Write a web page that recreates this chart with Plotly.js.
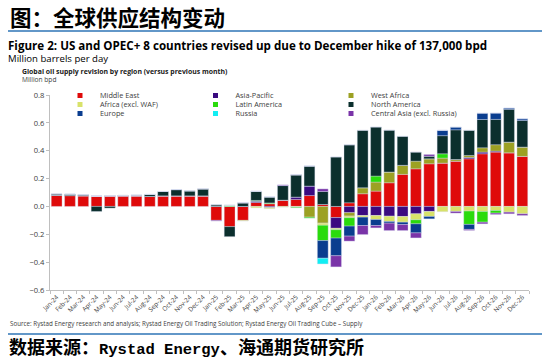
<!DOCTYPE html>
<html>
<head>
<meta charset="utf-8">
<script src="https://cdn.plot.ly/plotly-3.0.1.min.js"></script>
<style>
  html, body { margin: 0; padding: 0; background: #ffffff; }
  #chart { width: 550px; height: 359px; }
</style>
</head>
<body>
<div id="chart"></div>
<script>
// ---- Data (million bpd, revision vs previous month) ----
var months = ['Jan-24','Feb-24','Mar-24','Apr-24','May-24','Jun-24','Jul-24','Aug-24','Sep-24','Oct-24','Nov-24','Dec-24',
              'Jan-25','Feb-25','Mar-25','Apr-25','May-25','Jun-25','Jul-25','Aug-25','Sep-25','Oct-25','Nov-25','Dec-25',
              'Jan-26','Feb-26','Mar-26','Apr-26','May-26','Jun-26','Jul-26','Aug-26','Sep-26','Oct-26','Nov-26','Dec-26'];

var middleEast   = [0.080,0.078,0.077,0.074,0.076,0.076,0.076,0.072,0.076,0.076,0.076,0.076,
                    -0.100,-0.145,-0.100,0.028,0.020,0.045,0.050,0.078,0.014,-0.080,0.026,0.091,
                    0.110,0.170,0.230,0.270,0.306,0.311,0.325,0.342,0.378,0.390,0.385,0.359];
var asiaPacific  = [0,0,0,0,0,0,0,0,0,0,0,0,
                    0,0,0,0.010,-0.008,0,0.017,0.068,0,-0.077,-0.045,-0.065,
                    -0.065,-0.070,-0.072,-0.053,-0.036,0,0,0.010,0.012,0.007,0,0];
var westAfrica   = [0,0,0,0,0,0,0,0,0,0,0,0,
                    0,0,0,0,0,0,0,-0.077,-0.120,0,-0.024,0.043,
                    0.065,0.077,0.065,0.055,0.036,0.036,0.012,0.014,0.031,0.046,0.077,0.067];
var africaExWAF  = [0,0,0,0,0,0,0,0,0,0,0,0,
                    0,0,-0.005,-0.010,-0.008,-0.005,-0.005,0,-0.015,-0.010,-0.012,-0.012,
                    -0.029,-0.038,-0.041,-0.043,-0.036,-0.038,-0.036,-0.033,-0.036,-0.029,-0.041,-0.053];
var latinAmerica = [0,0,0,0,0,0,0,0,0,0,0,0,
                    0,0.008,0,0.005,0.005,0,-0.005,-0.007,-0.110,-0.060,-0.060,0,
                    0.043,0,0,-0.029,0,0.031,0,-0.096,-0.077,-0.019,0,0];
var northAmerica = [0.010,0.010,0.007,-0.036,-0.012,0.003,0.005,0.014,0.031,0.045,0.036,0.050,
                    0.012,-0.072,0.026,0.065,0.043,0.105,0.160,0.144,0.093,0.355,0.416,0.412,
                    0.352,0.300,0.208,0.065,0.019,0.130,0.213,0.180,0.203,0.182,0.235,0.191];
var europe       = [0,0,0,0,0,0,0,0,0,0,0,0,
                    0,0,0,0,0,0,0,0,-0.127,-0.127,-0.072,-0.060,
                    -0.043,-0.012,-0.017,-0.065,-0.017,0.038,0.019,-0.036,0.045,0.045,0.009,0.012];
var russia       = [0,0,0,0,0,0,0,0,0,0,0,0,
                    0,0,0,0,0,0,0,0,-0.041,0,0,0,
                    0,0,0,0,0,0,0,0,0,0,0,0];
var centralAsia  = [0,0,0,0,0,0,0,0,0,0,0,0,
                    -0.005,0,0,0,0,0.005,0,0,0.019,-0.080,-0.036,-0.065,
                    -0.017,-0.053,-0.043,-0.036,0.012,0,-0.012,-0.007,-0.012,-0.010,-0.012,-0.012];

var seriesNames = ['Middle East','Asia-Pacific','West Africa','Africa (excl. WAF)','Latin America',
                   'North America','Europe','Russia','Central Asia (excl. Russia)'];
var seriesValues = [middleEast, asiaPacific, westAfrica, africaExWAF, latinAmerica,
                    northAmerica, europe, russia, centralAsia];
var seriesColors = ['#DF0A0A','#3A0A80','#9CA123','#D8E26A','#2ADB0C',
                    '#0B2F2D','#0A3D8F','#12EEF3','#7A34A8'];
var legendRows   = ['legend','legend','legend','legend2','legend2','legend2','legend3','legend3','legend3'];

// ---- Geometry helpers (layout only) ----
var W = 550, H = 359;
var M = {l: 50, r: 21, t: 95, b: 69};
var pw = W - M.l - M.r, ph = H - M.t - M.b;
function px(x) { return (x - M.l) / pw; }
function py(y) { return (H - M.b - y) / ph; }

var traces = [];
for (var i = 0; i < seriesNames.length; i++) {
  traces.push({
    type: 'bar', x: months, y: seriesValues[i], name: seriesNames[i],
    marker: {color: seriesColors[i], line: {color: 'rgba(215,222,240,0.9)', width: 0.4}},
    showlegend: false, hoverinfo: 'x+y+name'
  });
}
for (var j = 0; j < seriesNames.length; j++) {
  traces.push({
    type: 'scatter', mode: 'markers', x: [null], y: [null], name: seriesNames[j],
    marker: {symbol: 'square', size: 5, color: seriesColors[j]},
    legend: legendRows[j], showlegend: true, hoverinfo: 'skip'
  });
}

var legendBase = function (yPix) {
  return {
    orientation: 'h', x: px(60), xanchor: 'left', y: py(yPix), yanchor: 'middle',
    entrywidth: 90.5, bgcolor: 'rgba(0,0,0,0)', borderwidth: 0,
    font: {family: 'Open Sans, sans-serif', size: 7.3, color: '#404040'},
    itemclick: false, itemdoubleclick: false
  };
};

var cjk = 'Noto Sans CJK SC, sans-serif';
var layout = {
  width: W, height: H,
  margin: M,
  paper_bgcolor: '#ffffff', plot_bgcolor: '#ffffff',
  barmode: 'relative', bargap: 0.19,
  font: {family: 'Open Sans, sans-serif', color: '#404040'},
  xaxis: {
    type: 'category', tickangle: -45, showgrid: false, zeroline: false,
    showline: true, linecolor: '#bfbfbf', linewidth: 1,
    ticks: 'outside', ticklen: 3, tickcolor: '#bfbfbf', tickson: 'boundaries',
    tickfont: {size: 6.4, color: '#404040'}, fixedrange: true
  },
  yaxis: {
    range: [-0.6, 0.8], tickvals: [-0.6,-0.4,-0.2,0,0.2,0.4,0.6,0.8], tickformat: '.1f',
    showgrid: false, zeroline: false, showline: true, linecolor: '#bfbfbf', linewidth: 1,
    ticks: 'outside', ticklen: 3, tickcolor: '#bfbfbf',
    tickfont: {size: 7.6, color: '#404040'}, fixedrange: true
  },
  legend: legendBase(95.5),
  legend2: legendBase(104.5),
  legend3: legendBase(113.5),
  shapes: [
    {type: 'line', xref: 'paper', yref: 'paper', x0: px(8), x1: px(542), y0: py(31), y1: py(31),
     line: {color: '#2E75B6', width: 1.6}},
    {type: 'line', xref: 'paper', yref: 'paper', x0: px(8), x1: px(542), y0: py(334), y1: py(334),
     line: {color: '#2E75B6', width: 1.6}}
  ],
  annotations: [
    {text: '<b>图：全球供应结构变动</b>', xref: 'paper', yref: 'paper', x: px(8), y: py(16.5),
     xanchor: 'left', yanchor: 'middle', showarrow: false,
     font: {family: cjk, size: 21.5, color: '#000000'}},
    {text: '<b>Figure 2: US and OPEC+ 8 countries revised up due to December hike of 137,000 bpd</b>',
     xref: 'paper', yref: 'paper', x: px(6), y: py(45.5), xanchor: 'left', yanchor: 'middle', showarrow: false,
     font: {family: 'Open Sans, sans-serif', size: 11.6, color: '#000000'}},
    {text: 'Million barrels per day', xref: 'paper', yref: 'paper', x: px(6), y: py(58),
     xanchor: 'left', yanchor: 'middle', showarrow: false,
     font: {family: 'Open Sans, sans-serif', size: 9.6, color: '#000000'}},
    {text: '<b>Global oil supply revision by region (versus previous month)</b>', xref: 'paper', yref: 'paper',
     x: px(20), y: py(71.5), xanchor: 'left', yanchor: 'middle', showarrow: false,
     font: {family: 'Open Sans, sans-serif', size: 6.9, color: '#202020'}},
    {text: 'Million bpd', xref: 'paper', yref: 'paper', x: px(20), y: py(79.5),
     xanchor: 'left', yanchor: 'middle', showarrow: false,
     font: {family: 'Open Sans, sans-serif', size: 6.6, color: '#404040'}},
    {text: 'Source: Rystad Energy research and analysis; Rystad Energy Oil Trading Solution; Rystad Energy Oil Trading Cube – Supply',
     xref: 'paper', yref: 'paper', x: px(8), y: py(323.5), xanchor: 'left', yanchor: 'middle', showarrow: false,
     font: {family: 'Open Sans, sans-serif', size: 6.25, color: '#404040'}},
    {text: '<b>数据来源：<span style="font-family:Liberation Mono, monospace;font-size:15.5px">Rystad Energy</span>、海通期货研究所</b>',
     xref: 'paper', yref: 'paper', x: px(8), y: py(346), xanchor: 'left', yanchor: 'middle', showarrow: false,
     borderpad: 0, font: {family: cjk, size: 18, color: '#000000'}}
  ]
};

Plotly.newPlot('chart', traces, layout, {displayModeBar: false, staticPlot: true});
</script>
</body>
</html>
